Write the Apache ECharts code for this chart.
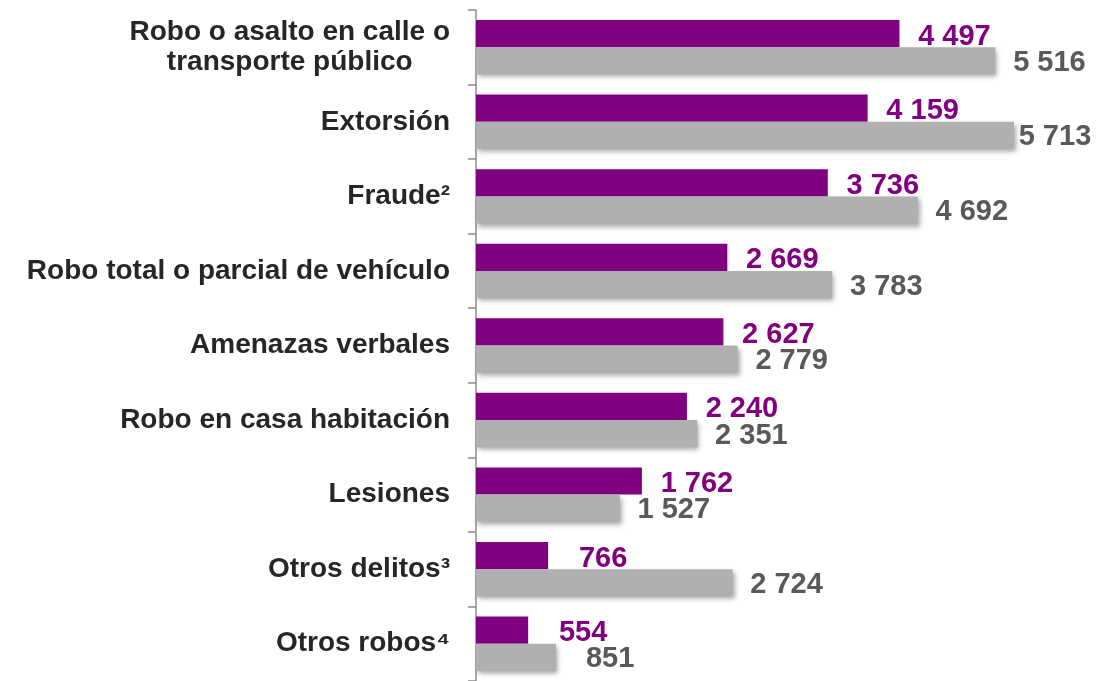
<!DOCTYPE html>
<html>
<head>
<meta charset="utf-8">
<script src="https://cdn.jsdelivr.net/npm/echarts@6/dist/echarts.min.js"></script>
<style>
  html, body { margin: 0; padding: 0; background: #fff; }
  #chart { width: 1097px; height: 681px; }
</style>
</head>
<body>
<div id="chart"></div>
<script>
// categorías (de arriba hacia abajo)
var categories = [
  'Robo o asalto en calle o\ntransporte público',
  'Extorsión',
  'Fraude²',
  'Robo total o parcial de vehículo',
  'Amenazas verbales',
  'Robo en casa habitación',
  'Lesiones',
  'Otros delitos³',
  'Otros robos⁴'
]
// barra morada
var serieMorada = [4497, 4159, 3736, 2669, 2627, 2240, 1762, 766, 554]
// barra gris
var serieGris = [5516, 5713, 4692, 3783, 2779, 2351, 1527, 2724, 851]

var FONT = '"Liberation Sans", Arial, sans-serif'

// 4 497 -> separador de miles con espacio
function fmt(p) {
  return String(p.value).replace(/\B(?=(\d{3})+(?!\d))/g, ' ')
}

// la etiqueta de la barra más larga se acerca para que quepa en el borde
var dataGris = serieGris.map(function (v) {
  return v > 5600 ? { value: v, label: { distance: 41 } } : v
})

var myChart = echarts.init(document.getElementById('chart'))

var option = {
  animation: false,
  grid: {
    left: 476,
    right: 56,
    top: 10,
    bottom: -2
  },
  xAxis: {
    type: 'value',
    min: 0,
    max: 6000,
    show: false
  },
  yAxis: {
    type: 'category',
    inverse: true,
    data: categories,
    axisLine: { show: true, lineStyle: { color: '#8c8c8c', width: 1.5 } },
    axisTick: { show: true, inside: false, length: 8, lineStyle: { color: '#8c8c8c', width: 1.5 } },
    axisLabel: {
      margin: 26,
      // líneas centradas dentro del bloque
      formatter: function (v) {
        return v.split('\n').map(function (s) { return '{c|' + s + '}' }).join('\n')
      },
      rich: {
        c: {
          align: 'center',
          fontFamily: FONT,
          fontSize: 28,
          fontWeight: 'bold',
          color: '#262626',
          lineHeight: 30
        }
      }
    }
  },
  series: [
    {
      name: 'morada',
      type: 'bar',
      data: serieMorada,
      barGap: '0%',
      barCategoryGap: '27%',
      itemStyle: { color: '#800080' },
      label: {
        show: true,
        position: 'right',
        align: 'center',
        distance: 55,
        offset: [0, 3],
        formatter: fmt,
        fontFamily: FONT,
        fontSize: 29,
        fontWeight: 'bold',
        color: '#800080'
      }
    },
    {
      name: 'gris',
      type: 'bar',
      data: dataGris,
      barGap: '0%',
      barCategoryGap: '27%',
      itemStyle: {
        color: '#b0b0b0',
        shadowColor: 'rgba(0, 0, 0, 0.35)',
        shadowBlur: 5,
        shadowOffsetX: 2,
        shadowOffsetY: 3
      },
      label: {
        show: true,
        position: 'right',
        align: 'center',
        distance: 54,
        offset: [0, 2],
        formatter: fmt,
        fontFamily: FONT,
        fontSize: 29,
        fontWeight: 'bold',
        color: '#595959'
      }
    }
  ]
}

myChart.setOption(option)
</script>
</body>
</html>
